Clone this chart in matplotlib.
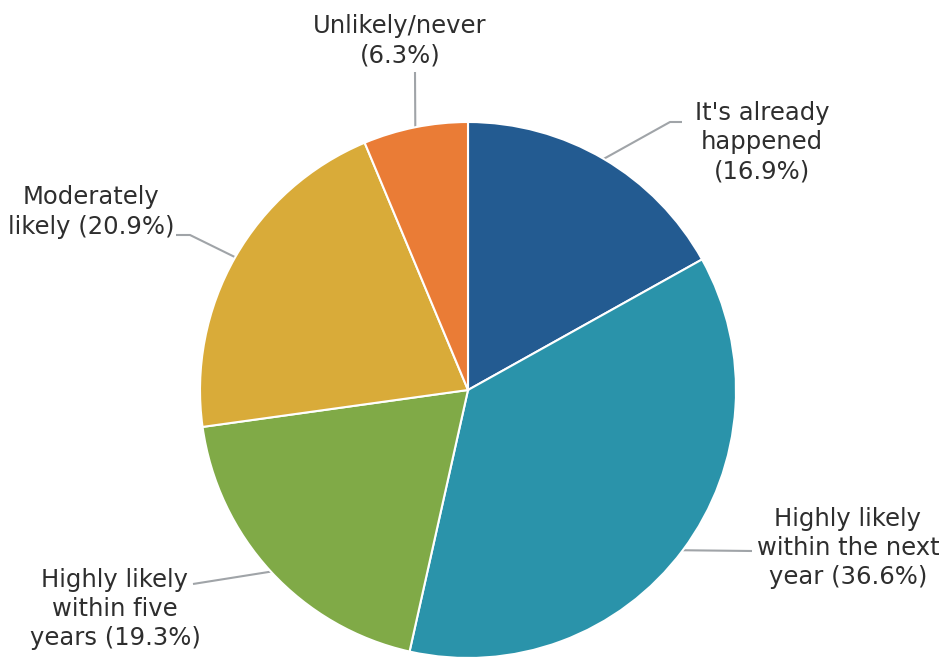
import numpy as np
import matplotlib
matplotlib.use("Agg")
import matplotlib.pyplot as plt

categories = ["It's already happened", "Highly likely within the next year",
              "Highly likely within five years", "Moderately likely", "Unlikely/never"]
values = [16.9, 36.6, 19.3, 20.9, 6.3]
label_texts = ["It's already\nhappened\n(16.9%)",
               "Highly likely\nwithin the next\nyear (36.6%)",
               "Highly likely\nwithin five\nyears (19.3%)",
               "Moderately\nlikely (20.9%)",
               "Unlikely/never\n(6.3%)"]
colors = ["#235B91", "#2A93AA", "#80AA47", "#D9AB39", "#EA7C36"]

W, H = 941, 657
fig = plt.figure(figsize=(W / 100, H / 100), dpi=100)
ax = fig.add_axes([0, 0, 1, 1])

cx, cy, R = 468, H - 390, 268
wedges, _ = ax.pie(values, colors=colors, startangle=90, counterclock=False,
                   center=(cx, cy), radius=R, frame=True,
                   wedgeprops=dict(edgecolor="white", linewidth=1.5))
ax.set_xlim(0, W)
ax.set_ylim(0, H)
ax.set_aspect("equal")
ax.axis("off")

# label layout: (text x, text y from top, [elbow points from top])
layout = [
    (762, 142, [(670, 122), (682, 122)]),
    (848, 548, [(752, 551)]),
    (115, 609, [(193, 584)]),
    (91, 212, [(190, 235), (176, 235)]),
    (400, 41, [(415, 72)]),
]

for w, txt, (tx, ty, pts) in zip(wedges, label_texts, layout):
    ang = np.deg2rad((w.theta1 + w.theta2) / 2)
    ax0 = cx + R * np.cos(ang)
    ay0 = cy + R * np.sin(ang)
    xs = [ax0] + [p[0] for p in pts]
    ys = [ay0] + [H - p[1] for p in pts]
    ax.plot(xs, ys, color="#A0A4A8", lw=1.5, zorder=0, solid_capstyle="butt")
    ax.text(tx, H - ty, txt, ha="center", va="center", fontsize=17.5,
            color="#2E2E2E", family=["DejaVu Sans"], linespacing=1.27)

fig.savefig("out.png", dpi=100)
